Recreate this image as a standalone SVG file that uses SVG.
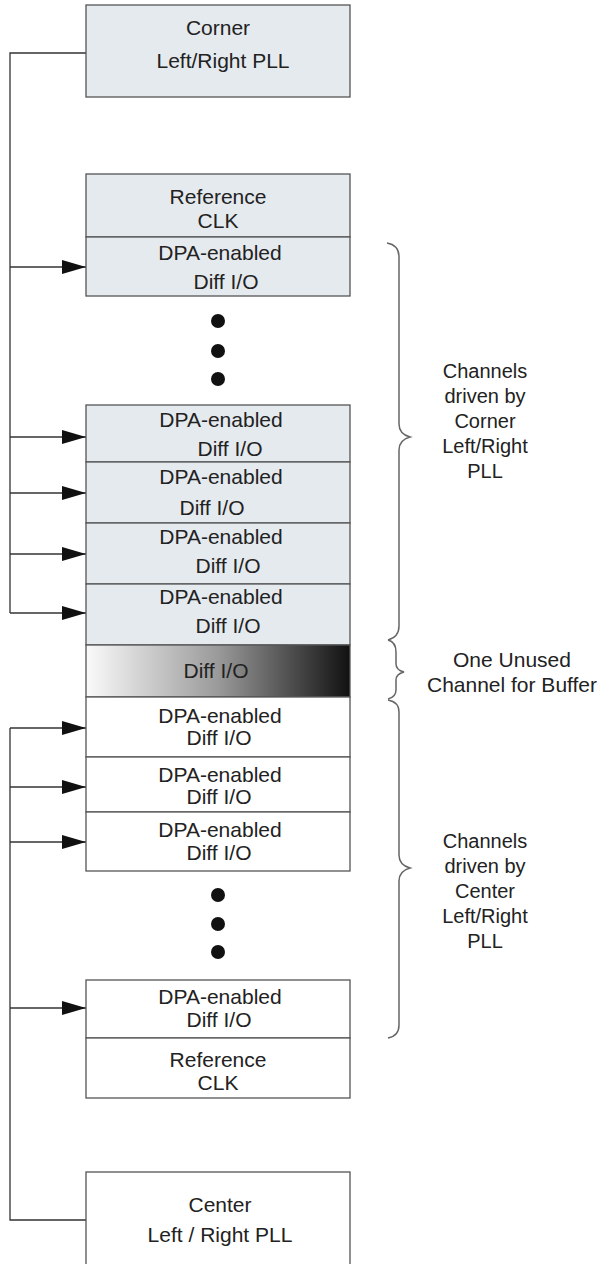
<svg xmlns="http://www.w3.org/2000/svg" width="604" height="1264" viewBox="0 0 604 1264">
<style>
.bx{fill:#e5eaef;stroke:#555;stroke-width:1.3}
.wb{fill:#fff;stroke:#555;stroke-width:1.3}
.t{font-family:"Liberation Sans",Arial,sans-serif;font-size:21px;fill:#222;text-anchor:middle}
.r{font-size:20px}
.c{fill:none;stroke:#333;stroke-width:1.3}
.br{fill:none;stroke:#666;stroke-width:1.5}
.dot{fill:#111}
</style>
<defs>
<marker id="ah" markerUnits="userSpaceOnUse" markerWidth="24" markerHeight="14" refX="24" refY="7" orient="auto">
<path d="M0,0 L24,7 L0,14 z" fill="#111"/>
</marker>
<linearGradient id="g" x1="0" y1="0" x2="1" y2="0">
<stop offset="0" stop-color="#fafafa"/>
<stop offset="0.5" stop-color="#9a9a9a"/>
<stop offset="1" stop-color="#111"/>
</linearGradient>
</defs>

<g id="connectors">
<path class="c" d="M86,53 H10 V613"/>
<line class="c" x1="10" y1="267" x2="86" y2="267" marker-end="url(#ah)"/>
<line class="c" x1="10" y1="437" x2="86" y2="437" marker-end="url(#ah)"/>
<line class="c" x1="10" y1="493" x2="86" y2="493" marker-end="url(#ah)"/>
<line class="c" x1="10" y1="554" x2="86" y2="554" marker-end="url(#ah)"/>
<line class="c" x1="10" y1="613" x2="86" y2="613" marker-end="url(#ah)"/>
<path class="c" d="M86,1220 H10 V728"/>
<line class="c" x1="10" y1="728" x2="86" y2="728" marker-end="url(#ah)"/>
<line class="c" x1="10" y1="787" x2="86" y2="787" marker-end="url(#ah)"/>
<line class="c" x1="10" y1="842" x2="86" y2="842" marker-end="url(#ah)"/>
<line class="c" x1="10" y1="1008" x2="86" y2="1008" marker-end="url(#ah)"/>
</g>

<g id="corner-pll">
<rect class="bx" x="86" y="5" width="264" height="92"/>
<text class="t" x="218" y="35">Corner</text>
<text class="t" x="223" y="68">Left/Right PLL</text>
</g>

<g id="ref-clk-top">
<rect class="bx" x="86" y="174" width="264" height="63"/>
<text class="t" x="218" y="204">Reference</text>
<text class="t" x="218" y="228">CLK</text>
</g>
<g id="dpa-top-1">
<rect class="bx" x="86" y="237" width="264" height="59"/>
<text class="t" x="220" y="260">DPA-enabled</text>
<text class="t" x="226" y="289">Diff I/O</text>
</g>

<g id="dots-top">
<circle class="dot" cx="218" cy="321" r="7"/>
<circle class="dot" cx="218" cy="351" r="7"/>
<circle class="dot" cx="218" cy="379" r="7"/>
</g>

<g id="dpa-top-2">
<rect class="bx" x="86" y="405" width="264" height="57"/>
<text class="t" x="221" y="427">DPA-enabled</text>
<text class="t" x="230" y="456">Diff I/O</text>
</g>
<g id="dpa-top-3">
<rect class="bx" x="86" y="462" width="264" height="61"/>
<text class="t" x="221" y="484">DPA-enabled</text>
<text class="t" x="212" y="515">Diff I/O</text>
</g>
<g id="dpa-top-4">
<rect class="bx" x="86" y="523" width="264" height="61"/>
<text class="t" x="221" y="544">DPA-enabled</text>
<text class="t" x="228" y="573">Diff I/O</text>
</g>
<g id="dpa-top-5">
<rect class="bx" x="86" y="584" width="264" height="61"/>
<text class="t" x="221" y="604">DPA-enabled</text>
<text class="t" x="228" y="633">Diff I/O</text>
</g>

<g id="unused">
<rect x="86" y="645" width="264" height="52" fill="url(#g)" stroke="#555" stroke-width="1.3"/>
<text class="t" x="216" y="678">Diff I/O</text>
</g>

<g id="dpa-bot-1">
<rect class="wb" x="86" y="697" width="264" height="60"/>
<text class="t" x="220" y="723">DPA-enabled</text>
<text class="t" x="219" y="745">Diff I/O</text>
</g>
<g id="dpa-bot-2">
<rect class="wb" x="86" y="757" width="264" height="55"/>
<text class="t" x="220" y="782">DPA-enabled</text>
<text class="t" x="219" y="804">Diff I/O</text>
</g>
<g id="dpa-bot-3">
<rect class="wb" x="86" y="812" width="264" height="59"/>
<text class="t" x="220" y="837">DPA-enabled</text>
<text class="t" x="219" y="860">Diff I/O</text>
</g>

<g id="dots-bottom">
<circle class="dot" cx="218" cy="895" r="7"/>
<circle class="dot" cx="218" cy="924" r="7"/>
<circle class="dot" cx="218" cy="952" r="7"/>
</g>

<g id="dpa-bot-4">
<rect class="wb" x="86" y="980" width="264" height="58"/>
<text class="t" x="220" y="1004">DPA-enabled</text>
<text class="t" x="219" y="1027">Diff I/O</text>
</g>
<g id="ref-clk-bottom">
<rect class="wb" x="86" y="1038" width="264" height="60"/>
<text class="t" x="218" y="1067">Reference</text>
<text class="t" x="218" y="1090">CLK</text>
</g>

<g id="center-pll">
<rect class="wb" x="86" y="1172" width="264" height="110"/>
<text class="t" x="220" y="1212">Center</text>
<text class="t" x="220" y="1242">Left / Right PLL</text>
</g>

<g id="brace-corner">
<path class="br" d="M387,243 Q399,245 399,257 L399,424 Q399,434 410,437 Q399,440 399,450 L399,626 Q399,637 388,640"/>
<text class="t r" x="485" y="378">Channels</text>
<text class="t r" x="485" y="403">driven by</text>
<text class="t r" x="485" y="428">Corner</text>
<text class="t r" x="485" y="453">Left/Right</text>
<text class="t r" x="485" y="478">PLL</text>
</g>
<g id="brace-unused">
<path class="br" d="M388,640 Q396,642 396,652 L396,664 Q396,670 404,672 Q396,674 396,680 L396,690 Q396,697 388,699"/>
<text class="t" x="512" y="667">One Unused</text>
<text class="t" x="512" y="692">Channel for Buffer</text>
</g>
<g id="brace-center">
<path class="br" d="M388,700 Q399,702 399,712 L399,855 Q399,865 410,868 Q399,871 399,881 L399,1025 Q399,1036 388,1038"/>
<text class="t r" x="485" y="848">Channels</text>
<text class="t r" x="485" y="873">driven by</text>
<text class="t r" x="485" y="898">Center</text>
<text class="t r" x="485" y="923">Left/Right</text>
<text class="t r" x="485" y="948">PLL</text>
</g>
</svg>
